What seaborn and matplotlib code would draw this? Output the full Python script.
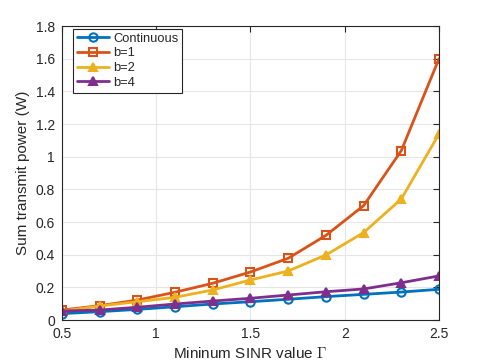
import numpy as np
import pandas as pd
import seaborn as sns
import matplotlib.pyplot as plt

# Data
gamma = [0.5, 0.7, 0.9, 1.1, 1.3, 1.5, 1.7, 1.9, 2.1, 2.3, 2.5]
p_continuous = [0.039, 0.051, 0.065, 0.081, 0.098, 0.112, 0.127, 0.143, 0.157, 0.171, 0.188]
p_b1 = [0.061, 0.088, 0.122, 0.170, 0.225, 0.294, 0.378, 0.518, 0.700, 1.037, 1.600]
p_b2 = [0.055, 0.086, 0.112, 0.139, 0.184, 0.245, 0.300, 0.398, 0.535, 0.741, 1.139]
p_b4 = [0.055, 0.061, 0.078, 0.098, 0.116, 0.133, 0.153, 0.173, 0.190, 0.228, 0.270]

series = ["Continuous", "b=1", "b=2", "b=4"]
colors = ["#0072BD", "#D95319", "#EDB120", "#7E2F8E"]
markers = ["o", "s", "^", "^"]
filled = [False, False, True, True]

df = pd.DataFrame({
    "gamma": gamma * 4,
    "power": p_continuous + p_b1 + p_b2 + p_b4,
    "scheme": sum([[s] * len(gamma) for s in series], []),
})

sns.set_style("whitegrid")
plt.rcParams["font.family"] = ["Liberation Sans", "DejaVu Sans"]
plt.rcParams["mathtext.fontset"] = "cm"

fig = plt.figure(figsize=(4.85, 3.63), dpi=100)
ax = fig.add_axes([62 / 485, 1 - 320 / 363, (439 - 62) / 485, (320 - 26) / 363])

for name, c, m, f in zip(series, colors, markers, filled):
    sub = df[df.scheme == name]
    sns.lineplot(
        data=sub, x="gamma", y="power", ax=ax, label=name, color=c,
        marker=m, markersize=6, markeredgewidth=1.5, linewidth=2,
        markerfacecolor=c if f else "none", markeredgecolor=c,
    )

ax.set_xlim(0.5, 2.5)
ax.set_ylim(0, 1.8)
ax.set_xticks([0.5, 1, 1.5, 2, 2.5])
ax.set_xticklabels(["0.5", "1", "1.5", "2", "2.5"])
yt = np.round(np.arange(0, 1.81, 0.2), 1)
ax.set_yticks(yt)
ax.set_yticklabels([f"{v:g}" for v in yt])

ax.grid(True, color="#e6e6e6", linewidth=0.8)
for sp in ax.spines.values():
    sp.set_visible(True)
    sp.set_color("#262626")
    sp.set_linewidth(0.8)
ax.tick_params(direction="in", length=4, top=True, right=True, colors="#262626",
               labelsize=10, width=0.8, pad=5)

ax.set_xlabel(r"Mininum SINR value $\Gamma$", fontsize=11, color="#262626")
ax.set_ylabel("Sum transmit power (W)", fontsize=11, color="#262626")

leg = ax.legend(loc="upper left", bbox_to_anchor=(0.029, 0.99), borderaxespad=0,
                fontsize=9.3, frameon=True, fancybox=False,
                handlelength=2.5, labelspacing=0.2,
                borderpad=0.3, handletextpad=0.3)
leg.get_frame().set_edgecolor("#262626")
leg.get_frame().set_linewidth(0.8)
leg.get_frame().set_alpha(1)

fig.savefig("out.png", dpi=100)
